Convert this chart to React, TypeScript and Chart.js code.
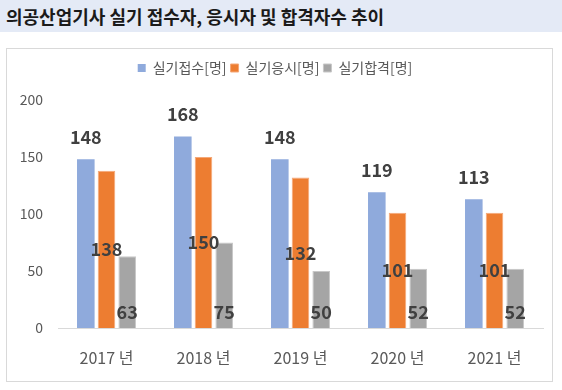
import React, { useEffect, useRef } from "react";
import { Chart, registerables } from "chart.js";

Chart.register(...registerables);

const categories = ["2017 년", "2018 년", "2019 년", "2020 년", "2021 년"];
const seriesNames = ["실기접수[명]", "실기응시[명]", "실기합격[명]"];
const applied = [148, 168, 148, 119, 113];
const tested = [138, 150, 132, 101, 101];
const passed = [63, 75, 50, 52, 52];
const yTicks = [0, 50, 100, 150, 200];

const FONT = '"Noto Sans CJK KR", "Noto Sans", sans-serif';

const labelPlugin = {
  id: "barLabels",
  afterDatasetsDraw(chart: any) {
    const ctx = chart.ctx;
    ctx.save();
    ctx.font = `bold 18px ${FONT}`;
    ctx.fillStyle = "#404040";
    ctx.textAlign = "center";
    ctx.textBaseline = "middle";
    chart.data.datasets.forEach((ds: any, di: number) => {
      const meta = chart.getDatasetMeta(di);
      meta.data.forEach((el: any, i: number) => {
        const v = String(ds.data[i]);
        let y;
        if (di === 0) y = el.y - 22;
        else if (di === 1) y = (el.y + el.base) / 2;
        else y = el.base - 16;
        ctx.fillText(v, el.x, y);
      });
    });
    ctx.restore();
  },
};

const legendSpacer = {
  id: "legendSpacer",
  beforeInit(chart: any) {
    const orig = chart.legend.fit;
    chart.legend.fit = function () {
      orig.call(this);
      this.height += 15;
    };
  },
};

export default function App() {
  const ref = useRef<HTMLCanvasElement>(null);
  useEffect(() => {
    const c = new Chart(ref.current!, {
      type: "bar",
      data: {
        labels: categories,
        datasets: [
          { label: seriesNames[0], data: applied, backgroundColor: "#8FAADC", borderColor: "#A9BFE6", borderWidth: 0 },
          { label: seriesNames[1], data: tested, backgroundColor: "#ED7D31", borderColor: "#F5A878", borderWidth: 1 },
          { label: seriesNames[2], data: passed, backgroundColor: "#A5A5A5", borderColor: "#C8C8C8", borderWidth: 1 },
        ],
      },
      options: {
        responsive: false,
        animation: false,
        layout: { padding: { top: 8, left: 0, right: 9, bottom: 0 } },
        datasets: { bar: { categoryPercentage: 0.64, barPercentage: 0.85 } },
        plugins: {
          legend: {
            position: "top",
            labels: {
              boxWidth: 8,
              boxHeight: 8,
              padding: 4,
              color: "#595959",
              font: { family: FONT, size: 14 },
            },
          },
          tooltip: { enabled: false },
        },
        scales: {
          x: {
            grid: { display: true, drawOnChartArea: false, drawTicks: false },
            border: { display: true, color: "#D9D9D9" },
            ticks: { color: "#595959", font: { family: FONT, size: 16 }, padding: 20 },
            afterFit(scale: any) {
              scale.height = 53;
            },
          },
          y: {
            min: 0,
            max: 200,
            grid: { display: false },
            border: { display: false },
            afterBuildTicks(scale: any) {
              scale.ticks = yTicks.map((v) => ({ value: v }));
            },
            afterFit(scale: any) {
              scale.width = 51;
            },
            ticks: { color: "#595959", font: { family: FONT, size: 14 }, padding: 7 },
          },
        },
      },
      plugins: [legendSpacer, labelPlugin],
    } as any);
    return () => c.destroy();
  }, []);

  return (
    <div style={{ position: "absolute", left: 0, top: 0, width: 562, height: 390, background: "#fff", fontFamily: FONT }}>
      <div
        style={{
          position: "absolute",
          left: 0,
          top: 0,
          width: 562,
          height: 32,
          background: "#E4EAF6",
          color: "#1a1a1a",
          fontWeight: 700,
          fontSize: 18,
          lineHeight: "32px",
          paddingLeft: 6,
          boxSizing: "border-box",
          whiteSpace: "nowrap",
        }}
      >
        의공산업기사 실기 접수자, 응시자 및 합격자수 추이
      </div>
      <div
        style={{
          position: "absolute",
          left: 6,
          top: 48,
          width: 547,
          height: 334,
          border: "1px solid #D9D9D9",
          boxSizing: "border-box",
        }}
      >
        <canvas ref={ref} width={545} height={332} style={{ display: "block" }} />
      </div>
    </div>
  );
}
